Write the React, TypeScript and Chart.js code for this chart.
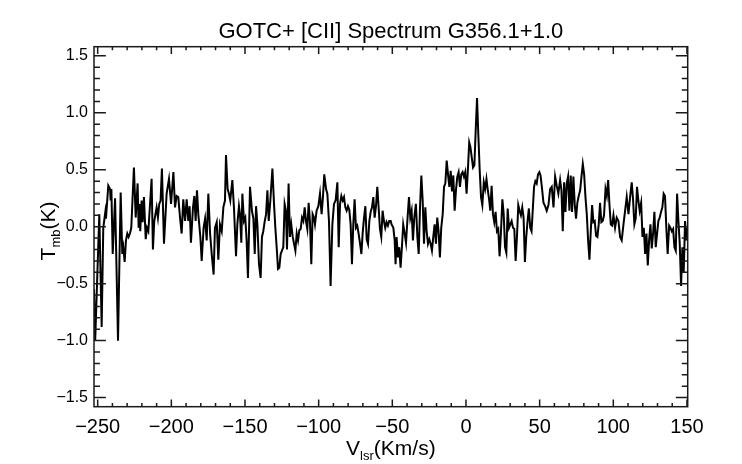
import React, { useEffect, useRef } from "react";
import { Chart, registerables } from "chart.js";

Chart.register(...registerables);

const TITLE = "GOTC+ [CII] Spectrum G356.1+1.0";

// LSR velocity (km/s) of each traced vertex of the spectrum
const velocity = [
  -252.5, -251.7, -248.9, -247.3, -246.2, -244.8, -244.4, -242.8, -241.6, -241.2,
  -240.7, -239.8, -238.2, -236.2, -234.4, -233.3, -232.6, -231.7, -230.8, -229.9,
  -229.0, -228.1, -227.2, -225.4, -224.2, -222.9, -222.2, -221.5, -221.1, -220.2,
  -219.5, -218.6, -217.4, -216.5, -215.6, -213.4, -212.5, -211.6, -210.0, -209.1,
  -208.2, -207.3, -206.4, -205.0, -203.2, -201.6, -200.2, -198.6, -197.5, -196.4,
  -195.3, -194.1, -193.0, -191.9, -190.7, -189.6, -188.5, -187.6, -186.7, -185.3,
  -184.4, -183.5, -182.6, -181.7, -180.3, -179.4, -178.1, -177.1, -176.0, -174.9,
  -173.7, -172.6, -171.3, -170.4, -169.2, -168.1, -167.0, -165.8, -164.7, -163.6,
  -162.9, -161.8, -160.9, -160.0, -158.6, -157.5, -156.1, -155.2, -154.1, -153.4,
  -152.5, -151.8, -150.7, -149.8, -148.9, -148.0, -146.6, -145.3, -144.3, -143.4,
  -142.5, -141.6, -140.5, -139.4, -138.5, -137.6, -136.7, -135.7, -134.8, -133.9,
  -132.8, -131.4, -130.3, -129.4, -128.5, -127.6, -126.7, -125.8, -124.9, -124.0,
  -123.1, -122.2, -121.5, -120.4, -119.5, -118.6, -117.6, -116.7, -115.8, -114.9,
  -114.0, -113.1, -112.2, -111.3, -110.4, -109.5, -108.6, -107.7, -106.8, -105.9,
  -105.0, -104.1, -103.2, -102.5, -101.4, -100.2, -99.1, -98.0, -97.1, -96.2,
  -95.0, -94.1, -93.0, -91.9, -90.7, -89.6, -88.5, -87.3, -86.4, -85.5,
  -84.6, -83.7, -82.8, -81.9, -81.0, -80.1, -79.2, -78.3, -77.4, -76.5,
  -75.6, -74.7, -73.8, -72.9, -72.0, -71.0, -70.1, -69.2, -68.3, -67.4,
  -66.5, -65.6, -64.7, -63.8, -62.9, -62.0, -61.1, -60.2, -59.3, -58.4,
  -57.5, -56.6, -55.7, -54.8, -53.9, -53.0, -52.1, -51.1, -50.5, -49.3,
  -48.4, -47.8, -47.1, -46.2, -45.3, -44.4, -43.5, -42.6, -41.6, -40.7,
  -39.8, -38.7, -37.8, -36.9, -36.0, -35.1, -34.0, -33.0, -32.1, -31.2,
  -30.3, -29.4, -28.5, -27.6, -26.7, -25.8, -24.9, -24.0, -23.1, -22.2,
  -21.3, -20.4, -19.5, -18.6, -17.7, -16.8, -15.8, -14.9, -14.0, -13.1,
  -12.2, -11.3, -10.4, -9.5, -8.6, -7.7, -6.8, -5.9, -5.0, -4.1,
  -3.2, -2.3, -1.4, -0.5, 0.4, 1.3, 2.2, 3.0, 3.8, 4.8,
  5.7, 6.6, 7.5, 8.4, 9.3, 10.2, 11.1, 12.1, 13.0, 13.9,
  14.8, 15.7, 16.5, 17.4, 18.3, 19.2, 20.1, 21.0, 21.9, 22.8,
  23.7, 24.7, 25.6, 26.5, 27.4, 28.3, 29.2, 30.1, 31.0, 31.9,
  32.8, 33.7, 34.6, 35.5, 36.4, 37.3, 38.2, 39.1, 40.0, 40.9,
  41.8, 42.7, 43.6, 44.5, 45.3, 46.2, 47.1, 48.0, 48.9, 49.8,
  50.6, 51.4, 52.6, 53.7, 54.8, 56.0, 57.1, 58.2, 59.4, 60.5,
  61.6, 62.7, 63.9, 64.8, 65.7, 66.6, 67.5, 68.4, 69.3, 70.2,
  71.1, 72.0, 72.9, 73.8, 74.7, 75.6, 76.5, 77.5, 78.4, 79.3,
  80.2, 81.1, 82.0, 82.9, 83.8, 84.7, 85.6, 86.5, 87.4, 88.3,
  89.2, 90.1, 91.0, 91.9, 92.8, 93.7, 94.7, 95.6, 96.5, 97.4,
  98.3, 99.2, 100.1, 101.2, 102.3, 103.5, 104.6, 105.7, 106.9, 108.0,
  109.1, 110.3, 111.4, 112.5, 113.4, 114.3, 115.2, 116.1, 117.0, 117.9,
  118.9, 119.8, 120.7, 121.6, 122.5, 123.4, 124.3, 125.2, 126.1, 127.0,
  127.9, 128.8, 129.7, 130.6, 131.5, 132.4, 133.3, 134.2, 135.1, 136.0,
  136.9, 137.9, 138.8, 139.7, 140.6, 141.5, 142.4, 143.3, 144.2, 145.1,
  146.0, 146.9, 147.8, 148.7, 149.6, 150.5,
];

// main-beam temperature (K) at each vertex
const tmb = [
  -0.55, -1.00, 0.11, -0.88, -0.01, 0.13, 0.07, 0.36, 0.33, 0.23,
  0.33, -0.24, 0.25, -1.00, 0.30, -0.24, -0.18, -0.31, -0.12, -0.06,
  -0.09, -0.06, -0.01, 0.52, 0.08, 0.38, -0.01, 0.20, -0.04, 0.23,
  0.04, 0.26, -0.11, -0.01, -0.04, 0.42, -0.20, 0.05, 0.17, 0.08,
  0.20, 0.23, 0.51, -0.15, 0.29, 0.42, 0.20, 0.48, 0.17, 0.27,
  0.26, 0.08, -0.06, 0.24, 0.05, 0.24, 0.05, 0.18, -0.14, 0.17,
  0.27, 0.05, 0.32, 0.11, -0.09, -0.30, -0.01, 0.07, -0.12, 0.29,
  -0.06, -0.24, -0.42, -0.01, 0.04, -0.29, 0.02, -0.04, 0.17, 0.23,
  0.63, 0.33, 0.29, 0.23, 0.41, 0.17, -0.26, 0.02, 0.18, 0.11,
  -0.14, 0.29, 0.05, 0.08, -0.12, -0.45, 0.35, 0.14, 0.07, -0.24,
  0.18, 0.02, -0.33, -0.45, -0.09, -0.04, 0.04, 0.11, 0.32, 0.05,
  0.23, 0.51, 0.20, -0.01, -0.18, -0.37, -0.36, -0.24, -0.21, -0.18,
  0.20, 0.14, -0.20, 0.38, -0.09, 0.02, -0.09, -0.15, -0.21, -0.06,
  -0.12, -0.03, -0.02, 0.08, 0.05, 0.17, 0.05, -0.02, 0.21, 0.04,
  -0.33, 0.11, 0.08, 0.02, 0.14, 0.18, 0.29, 0.11, 0.26, 0.46,
  0.33, 0.29, 0.05, -0.52, 0.02, 0.20, 0.23, 0.39, -0.18, 0.20,
  0.27, 0.23, 0.26, 0.17, 0.14, 0.18, 0.15, 0.02, -0.33, 0.02,
  0.24, -0.01, 0.01, -0.06, -0.14, -0.24, -0.05, 0.08, 0.18, -0.11,
  -0.15, 0.05, 0.13, 0.17, 0.26, 0.08, 0.18, 0.35, 0.17, -0.02,
  -0.09, 0.14, 0.05, -0.01, 0.04, 0.01, 0.05, 0.05, 0.02, -0.01,
  -0.12, -0.33, -0.09, -0.27, -0.18, -0.36, -0.18, 0.02, -0.06, -0.14,
  0.05, 0.26, 0.08, 0.14, -0.12, 0.08, 0.20, -0.09, -0.24, 0.17,
  0.45, 0.23, -0.15, 0.17, -0.04, -0.15, -0.11, -0.15, -0.21, -0.09,
  0.02, -0.15, 0.08, -0.04, -0.27, -0.01, 0.11, 0.35, 0.38, 0.58,
  0.46, 0.35, 0.49, 0.31, 0.45, 0.14, 0.32, 0.44, 0.48, 0.35,
  0.46, 0.48, 0.44, 0.48, 0.29, 0.50, 0.74, 0.70, 0.62, 0.52,
  0.54, 0.85, 1.13, 0.80, 0.50, 0.26, 0.19, 0.39, 0.33, 0.42,
  0.32, 0.24, 0.14, 0.36, 0.11, 0.04, 0.13, -0.04, -0.02, -0.26,
  -0.06, 0.24, 0.11, -0.18, -0.23, 0.16, -0.01, 0.02, 0.05, -0.01,
  -0.02, -0.30, -0.09, 0.19, 0.14, 0.10, 0.17, 0.08, -0.31, -0.09,
  0.05, 0.16, -0.01, -0.04, 0.14, 0.35, 0.40, 0.38, 0.46, 0.48,
  0.45, 0.36, 0.21, 0.18, 0.14, 0.19, 0.33, 0.35, 0.17, 0.44,
  0.36, 0.29, 0.41, 0.32, -0.04, 0.39, 0.13, 0.38, 0.44, 0.14,
  0.45, 0.13, 0.44, 0.20, 0.07, 0.21, 0.27, 0.32, 0.44, 0.55,
  0.46, 0.26, 0.11, -0.12, -0.29, -0.04, 0.19, 0.04, 0.05, -0.08,
  -0.09, 0.02, 0.21, 0.04, 0.05, 0.10, 0.33, 0.27, 0.41, 0.19,
  0.02, 0.01, 0.10, -0.01, 0.08, 0.05, -0.09, -0.12, 0.02, 0.14,
  0.26, 0.11, 0.26, 0.39, 0.24, 0.02, 0.07, 0.35, 0.23, 0.14,
  0.21, -0.09, -0.01, -0.24, -0.06, -0.34, -0.12, 0.02, -0.19, -0.06,
  0.13, -0.18, -0.06, 0.05, 0.08, 0.13, 0.17, 0.29, 0.27, -0.01,
  -0.24, 0.01, -0.01, -0.04, -0.02, -0.18, -0.21, 0.29, 0.05, -0.15,
  -0.52, -0.18, -0.40, 0.05, -0.12, -0.01,
];

const xTicks = [-250, -200, -150, -100, -50, 0, 50, 100, 150];
const yTicks = [-1.5, -1.0, -0.5, 0.0, 0.5, 1.0, 1.5];
const X_RANGE = [-252.5, 150.5];
const Y_RANGE = [-1.58, 1.58];
const X_MINOR_STEP = 10;
const Y_MINOR_STEP = 0.1;

const FONT = '"Liberation Sans", Arial, Helvetica, sans-serif';

function fmt(v: number, digits: number): string {
  return v.toFixed(digits).replace("-", "\u2212");
}

type Part = { text: string; size: number; dy: number };

function drawRich(ctx: CanvasRenderingContext2D, parts: Part[], cx: number, baseY: number) {
  let total = 0;
  for (const p of parts) {
    ctx.font = `${p.size}px ${FONT}`;
    total += ctx.measureText(p.text).width;
  }
  let x = cx - total / 2;
  ctx.textAlign = "left";
  ctx.textBaseline = "alphabetic";
  for (const p of parts) {
    ctx.font = `${p.size}px ${FONT}`;
    ctx.fillText(p.text, x, baseY + p.dy);
    x += ctx.measureText(p.text).width;
  }
}

const idlFrame = {
  id: "idlFrame",
  afterDatasetsDraw(chart: any) {
    const { ctx, chartArea: a, scales } = chart;
    const xs = scales.x;
    const ys = scales.y;
    const w = a.right - a.left;
    const h = a.bottom - a.top;
    const xMaj = 0.02 * h;
    const yMaj = 0.02 * w;
    ctx.save();
    ctx.strokeStyle = "#1a1a1a";
    ctx.lineWidth = 1.5;
    ctx.strokeRect(a.left, a.top, w, h);
    ctx.beginPath();
    const x0 = xTicks[0];
    const x1 = xTicks[xTicks.length - 1];
    const nx = Math.round((x1 - x0) / X_MINOR_STEP);
    for (let i = 0; i <= nx; i++) {
      const v = x0 + i * X_MINOR_STEP;
      const major = xTicks.includes(v);
      const len = major ? xMaj : xMaj / 2;
      const p = xs.getPixelForValue(v);
      ctx.moveTo(p, a.bottom);
      ctx.lineTo(p, a.bottom - len);
      ctx.moveTo(p, a.top);
      ctx.lineTo(p, a.top + len);
    }
    const y0 = yTicks[0];
    const y1 = yTicks[yTicks.length - 1];
    const ny = Math.round((y1 - y0) / Y_MINOR_STEP);
    for (let i = 0; i <= ny; i++) {
      const v = y0 + i * Y_MINOR_STEP;
      const major = i % 5 === 0;
      const len = major ? yMaj : yMaj / 2;
      const p = ys.getPixelForValue(v);
      ctx.moveTo(a.left, p);
      ctx.lineTo(a.left + len, p);
      ctx.moveTo(a.right, p);
      ctx.lineTo(a.right - len, p);
    }
    ctx.stroke();
    ctx.restore();
  },
  afterDraw(chart: any) {
    const { ctx, chartArea: a } = chart;
    ctx.save();
    ctx.fillStyle = "#000";
    drawRich(
      ctx,
      [
        { text: "V", size: 21, dy: 0 },
        { text: "lsr", size: 13, dy: 5 },
        { text: "(Km/s)", size: 21, dy: 0 },
      ],
      (a.left + a.right) / 2,
      455
    );
    ctx.translate(55, 231);
    ctx.rotate(-Math.PI / 2);
    drawRich(
      ctx,
      [
        { text: "T", size: 21, dy: 0 },
        { text: "mb", size: 13, dy: 5 },
        { text: "(K)", size: 21, dy: 0 },
      ],
      0,
      0
    );
    ctx.restore();
  },
};

export default function App() {
  const ref = useRef<HTMLCanvasElement>(null);

  useEffect(() => {
    const canvas = ref.current;
    if (!canvas) return;
    const points = velocity.map((v, i) => ({ x: v, y: tmb[i] }));
    const chart = new Chart(canvas, {
      type: "line",
      data: {
        datasets: [
          {
            data: points,
            borderColor: "#000",
            borderWidth: 2,
            pointRadius: 0,
            tension: 0,
            fill: false,
          },
        ],
      },
      options: {
        animation: false,
        responsive: false,
        events: [],
        layout: { padding: { left: 0, right: 54.3, top: 0, bottom: 0 } },
        plugins: {
          legend: { display: false },
          tooltip: { enabled: false },
          title: {
            display: true,
            text: TITLE,
            fullSize: false,
            color: "#000",
            font: { family: FONT, size: 22, weight: "normal" },
            padding: { top: 18.5, bottom: 1.8 },
          },
        },
        scales: {
          x: {
            type: "linear",
            min: X_RANGE[0],
            max: X_RANGE[1],
            grid: { display: false, drawTicks: false },
            border: { display: false },
            afterBuildTicks: (s: any) => {
              s.ticks = xTicks.map((value) => ({ value }));
            },
            afterFit: (s: any) => {
              s.height = 57.3;
            },
            ticks: {
              color: "#000",
              font: { family: FONT, size: 20 },
              padding: 9,
              maxRotation: 0,
              autoSkip: false,
              callback: (v: any) => fmt(Number(v), 0),
            },
          },
          y: {
            type: "linear",
            min: Y_RANGE[0],
            max: Y_RANGE[1],
            grid: { display: false, drawTicks: false },
            border: { display: false },
            afterBuildTicks: (s: any) => {
              s.ticks = yTicks.map((value) => ({ value }));
            },
            afterFit: (s: any) => {
              s.width = 94;
            },
            ticks: {
              color: "#000",
              font: { family: FONT, size: 16 },
              padding: 6,
              autoSkip: false,
              callback: (v: any) => fmt(Number(v), 1),
            },
          },
        },
      },
      plugins: [idlFrame],
    } as any);
    return () => chart.destroy();
  }, []);

  return (
    <div style={{ position: "absolute", left: 0, top: 0, width: 742, height: 464, background: "#fff" }}>
      <canvas ref={ref} width={742} height={464} style={{ display: "block", width: 742, height: 464 }} />
    </div>
  );
}
